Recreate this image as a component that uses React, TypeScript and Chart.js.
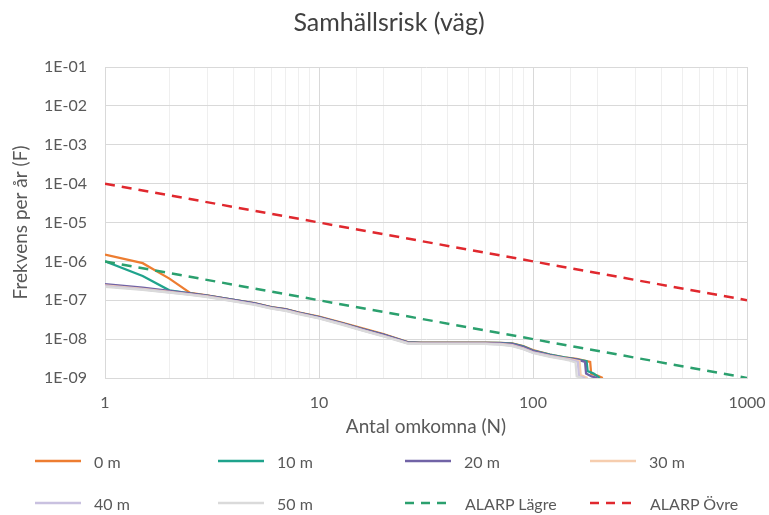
import React, { useEffect, useRef } from 'react';
import { Chart, registerables } from 'chart.js';

Chart.register(...registerables);

// ---- Data ----
const N_0M = [1, 1.5, 2, 2.5, 3, 4, 5, 6, 7, 8, 10, 13, 16, 20, 26, 30, 40, 50, 60, 70, 80, 90, 100, 120, 140, 160, 185, 187, 200, 212];
const F_0M = [1.5e-6, 9.0e-7, 3.6e-7, 1.55e-7, 1.33e-7, 1.03e-7, 8.4e-8, 6.7e-8, 5.9e-8, 4.9e-8, 3.8e-8, 2.6e-8, 1.9e-8, 1.35e-8, 8.4e-9, 8.1e-9, 8.1e-9, 8.1e-9, 8.1e-9, 8.0e-9, 7.8e-9, 6.6e-9, 5.2e-9, 4.0e-9, 3.4e-9, 3.1e-9, 2.6e-9, 1.3e-9, 1.15e-9, 1.0e-9];

const N_10M = [1, 1.5, 2, 2.5, 3, 4, 5, 6, 7, 8, 10, 13, 16, 20, 26, 30, 40, 50, 60, 70, 80, 90, 100, 120, 140, 160, 178, 180, 192, 205];
const F_10M = [1.0e-6, 4.2e-7, 1.8e-7, 1.5e-7, 1.32e-7, 1.02e-7, 8.3e-8, 6.6e-8, 5.8e-8, 4.8e-8, 3.7e-8, 2.5e-8, 1.8e-8, 1.3e-8, 8.3e-9, 8.0e-9, 8.0e-9, 8.0e-9, 8.0e-9, 8.0e-9, 7.7e-9, 6.5e-9, 5.1e-9, 4.0e-9, 3.4e-9, 3.0e-9, 2.7e-9, 1.5e-9, 1.3e-9, 1.0e-9];

const N_20M = [1, 1.5, 2, 2.5, 3, 4, 5, 6, 7, 8, 10, 13, 16, 20, 26, 30, 40, 50, 60, 70, 80, 90, 100, 120, 140, 160, 175, 177, 188, 200];
const F_20M = [2.6e-7, 2.1e-7, 1.75e-7, 1.5e-7, 1.32e-7, 1.02e-7, 8.3e-8, 6.6e-8, 5.8e-8, 4.8e-8, 3.7e-8, 2.5e-8, 1.8e-8, 1.3e-8, 8.3e-9, 8.0e-9, 8.0e-9, 8.0e-9, 8.0e-9, 7.9e-9, 7.6e-9, 6.3e-9, 5.0e-9, 3.9e-9, 3.3e-9, 3.0e-9, 2.6e-9, 1.3e-9, 1.1e-9, 1.0e-9];

const N_30M = [1, 1.5, 2, 2.5, 3, 4, 5, 6, 7, 8, 10, 13, 16, 20, 26, 30, 40, 50, 60, 70, 80, 90, 100, 120, 140, 150, 165, 167, 180];
const F_30M = [2.4e-7, 1.95e-7, 1.65e-7, 1.42e-7, 1.25e-7, 9.7e-8, 7.9e-8, 6.3e-8, 5.5e-8, 4.6e-8, 3.5e-8, 2.4e-8, 1.7e-8, 1.22e-8, 7.9e-9, 7.7e-9, 7.7e-9, 7.7e-9, 7.7e-9, 7.5e-9, 7.0e-9, 5.8e-9, 4.6e-9, 3.7e-9, 3.2e-9, 3.0e-9, 2.7e-9, 1.2e-9, 1.0e-9];

const N_40M = [1, 1.5, 2, 2.5, 3, 4, 5, 6, 7, 8, 10, 13, 16, 20, 26, 30, 40, 50, 60, 70, 80, 90, 100, 120, 140, 150, 162, 164, 175];
const F_40M = [2.3e-7, 1.9e-7, 1.6e-7, 1.4e-7, 1.23e-7, 9.5e-8, 7.8e-8, 6.2e-8, 5.4e-8, 4.5e-8, 3.45e-8, 2.35e-8, 1.68e-8, 1.2e-8, 7.8e-9, 7.6e-9, 7.6e-9, 7.6e-9, 7.6e-9, 7.3e-9, 6.8e-9, 5.6e-9, 4.5e-9, 3.6e-9, 3.1e-9, 2.9e-9, 2.6e-9, 1.1e-9, 1.0e-9];

const N_50M = [1, 1.5, 2, 2.5, 3, 4, 5, 6, 7, 8, 10, 13, 16, 20, 26, 30, 40, 50, 60, 70, 80, 90, 100, 120, 140, 145, 158, 160, 170];
const F_50M = [2.2e-7, 1.85e-7, 1.57e-7, 1.37e-7, 1.2e-7, 9.3e-8, 7.6e-8, 6.1e-8, 5.3e-8, 4.4e-8, 3.4e-8, 2.3e-8, 1.65e-8, 1.18e-8, 7.7e-9, 7.5e-9, 7.5e-9, 7.5e-9, 7.5e-9, 7.2e-9, 6.6e-9, 5.5e-9, 4.4e-9, 3.5e-9, 3.0e-9, 2.9e-9, 2.5e-9, 1.1e-9, 1.0e-9];

const N_ALARP = [1, 1000];
const F_ALARP_LOWER = [1e-6, 1e-9];
const F_ALARP_UPPER = [1e-4, 1e-7];

const SERIES_LABELS = ['0 m', '10 m', '20 m', '30 m', '40 m', '50 m', 'ALARP Lägre', 'ALARP Övre'];
const SERIES_COLORS = ['#ED7D31', '#1FA38C', '#7163A6', '#F6CDAE', '#C9C1E0', '#DADADA', '#2BA06E', '#E0282E'];
const SERIES_N = [N_0M, N_10M, N_20M, N_30M, N_40M, N_50M, N_ALARP, N_ALARP];
const SERIES_F = [F_0M, F_10M, F_20M, F_30M, F_40M, F_50M, F_ALARP_LOWER, F_ALARP_UPPER];
const SERIES_DASHED = [false, false, false, false, false, false, true, true];

const Y_TICKS = [1e-1, 1e-2, 1e-3, 1e-4, 1e-5, 1e-6, 1e-7, 1e-8, 1e-9];
const X_MIN = 1;
const X_MAX = 1000;

const TITLE = 'Samhällsrisk (väg)';
const X_TITLE = 'Antal omkomna (N)';
const Y_TITLE = 'Frekvens per år (F)';

const FONT = 'Lato, "Open Sans", sans-serif';
const TEXT_COLOR = '#595959';

function fmtExp(v: number): string {
  const e = Math.round(Math.log10(v));
  const sign = e < 0 ? '-' : '+';
  return '1E' + sign + String(Math.abs(e)).padStart(2, '0');
}

const LEGEND_COLS = [35, 218, 405, 590];
const LEGEND_ROWS = [461, 503];

export default function App() {
  const canvasRef = useRef<HTMLCanvasElement | null>(null);

  useEffect(() => {
    const canvas = canvasRef.current;
    if (!canvas) return;
    const datasets = SERIES_LABELS.map((label, i) => ({
      label,
      data: SERIES_N[i].map((x, j) => ({ x, y: SERIES_F[i][j] })),
      borderColor: SERIES_COLORS[i],
      backgroundColor: SERIES_COLORS[i],
      borderWidth: SERIES_DASHED[i] ? 2.5 : 2.25,
      borderDash: SERIES_DASHED[i] ? [10, 7] : [],
      pointRadius: 0,
      tension: 0,
      fill: false,
      order: -i,
    }));

    const chart = new Chart(canvas, {
      type: 'line',
      data: { datasets },
      options: {
        animation: false,
        responsive: false,
        maintainAspectRatio: false,
        devicePixelRatio: 1,
        layout: { padding: { left: 0, right: 22, top: 67, bottom: 75 } },
        plugins: {
          legend: { display: false },
          tooltip: { enabled: false },
          title: { display: false },
        },
        scales: {
          x: {
            type: 'logarithmic',
            min: X_MIN,
            max: X_MAX,
            afterFit: (scale: any) => {
              scale.height = 62;
              scale.paddingRight = 0;
              scale.paddingLeft = 0;
            },
            ticks: {
              autoSkip: false,
              maxRotation: 0,
              padding: 15,
              color: TEXT_COLOR,
              font: { family: FONT, size: 16 },
              callback: (value: any) => {
                const v = Number(value);
                const l = Math.log10(v);
                return Math.abs(l - Math.round(l)) < 1e-9 ? String(Math.round(v)) : '';
              },
            },
            grid: {
              drawTicks: false,
              color: (ctx: any) => {
                const v = ctx.tick ? ctx.tick.value : 0;
                const l = Math.log10(v);
                return Math.abs(l - Math.round(l)) < 1e-9 ? '#D9D9D9' : '#EFEFEF';
              },
              lineWidth: 1,
            },
            border: { display: true, color: '#D9D9D9' },
            title: {
              display: true,
              text: X_TITLE,
              color: TEXT_COLOR,
              font: { family: FONT, size: 19 },
              padding: { top: 0, bottom: 2 },
            },
          },
          y: {
            type: 'logarithmic',
            min: 1e-9,
            max: 1e-1,
            afterFit: (scale: any) => {
              scale.width = 105;
            },
            afterBuildTicks: (scale: any) => {
              scale.ticks = Y_TICKS.map((v) => ({ value: v }));
            },
            ticks: {
              autoSkip: false,
              padding: 18,
              color: TEXT_COLOR,
              font: { family: FONT, size: 16 },
              callback: (value: any) => fmtExp(Number(value)),
            },
            grid: { drawTicks: false, color: '#D9D9D9', lineWidth: 1 },
            border: { display: true, color: '#D9D9D9' },
            title: {
              display: true,
              text: Y_TITLE,
              color: TEXT_COLOR,
              font: { family: FONT, size: 19 },
              padding: { top: 9, bottom: 0 },
            },
          },
        },
      } as any,
    });
    return () => chart.destroy();
  }, []);

  return (
    <div style={{ position: 'fixed', left: 0, top: 0, width: 769, height: 515, background: '#fff', overflow: 'hidden' }}>
      <canvas ref={canvasRef} width={769} height={515} style={{ display: 'block', width: 769, height: 515 }} />
      <div
        style={{
          position: 'absolute',
          left: 0,
          top: 6,
          width: 778,
          textAlign: 'center',
          fontFamily: FONT,
          fontSize: 25,
          lineHeight: '30px',
          color: '#404040',
        }}
      >
        {TITLE}
      </div>
      {SERIES_LABELS.map((label, i) => {
        const col = i < 6 ? i % 4 : (i - 6) + 2;
        const row = i < 4 ? 0 : 1;
        const left = LEGEND_COLS[col];
        const top = LEGEND_ROWS[row];
        return (
          <div
            key={label}
            style={{
              position: 'absolute',
              left,
              top: top - 10,
              height: 20,
              display: 'flex',
              alignItems: 'center',
              fontFamily: FONT,
              fontSize: 16,
              color: TEXT_COLOR,
              whiteSpace: 'nowrap',
            }}
          >
            <svg width={SERIES_DASHED[i] ? 48 : 46} height={6} style={{ marginRight: SERIES_DASHED[i] ? 12 : 13 }}>
              <line
                x1={0}
                y1={3}
                x2={SERIES_DASHED[i] ? 48 : 46}
                y2={3}
                stroke={SERIES_COLORS[i]}
                strokeWidth={2.5}
                strokeDasharray={SERIES_DASHED[i] ? '9 7' : undefined}
              />
            </svg>
            <span>{label}</span>
          </div>
        );
      })}
    </div>
  );
}
